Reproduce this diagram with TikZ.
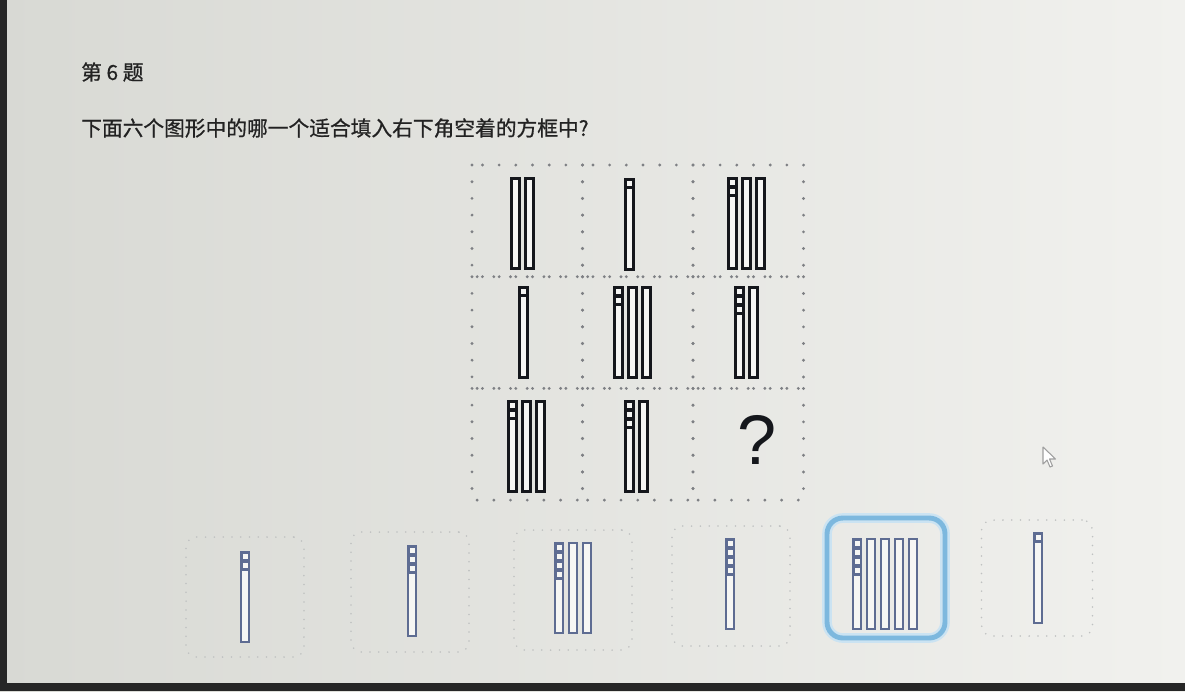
\documentclass[tikz,border=0pt]{standalone}
\usepackage{fontspec}
\newfontfamily\cjk[FakeBold=0.8]{Noto Sans CJK SC}
\newfontfamily\qfont{Liberation Sans}
\usetikzlibrary{calc, positioning}
\definecolor{screenlight}{HTML}{F1F1EE}
\definecolor{screendark}{HTML}{D8D9D4}
\definecolor{barink}{HTML}{15171C}
\definecolor{optink}{HTML}{5E6C92}
\definecolor{dotgrey}{HTML}{7E8084}
\definecolor{optdot}{HTML}{BFC1C1}
\definecolor{pickblue}{HTML}{7DB8DE}
\definecolor{textink}{HTML}{222222}
\definecolor{barpaper}{HTML}{F6F6F4}

% a group of sticks: style prefix, centre x, centre y, sticks, squares on the first one
\newcommand{\sticks}[5]{%
  \pgfmathsetmacro{\stickleft}{#2-(14*#4-6)/2}
  \foreach \b in {1,...,#4}
    \draw[#1bar, fill=barpaper] (\stickleft+14*\b-14,#3-45) rectangle ++(8,90);
  \ifnum#5>0
    \fill[#1fill] (\stickleft,#3-45) rectangle ++(8,9*#5+1);
    \foreach \k in {1,...,#5}
      \fill[barpaper] (\stickleft+1.5,#3-43+9*\k-9) rectangle ++(5,5);
  \fi
}

\begin{document}
\begin{tikzpicture}[x=0.02cm, y=-0.02cm,
    gridbar/.style={draw=barink, line width=1.7pt},
    gridfill/.style={fill=barink},
    optbar/.style={draw=optink, line width=1.1pt},
    optfill/.style={fill=optink},
    dotcell/.style={draw=dotgrey, line width=1.8pt, line cap=round, dash pattern=on 0pt off 9.5pt},
    optbox/.style={draw=optdot, line width=1pt, line cap=round, dash pattern=on 0pt off 5pt,
        rounded corners=6pt, minimum width=2.36cm, minimum height=2.4cm, inner sep=0pt},
    pickbox/.style={draw=pickblue, solid, line width=2.8pt, rounded corners=9pt,
        preaction={draw=pickblue!40, line width=5.5pt}},
    qtext/.style={anchor=west, text=textink, font=\cjk\fontsize{11.8}{14}\selectfont}]
    \useasboundingbox (0,0) rectangle (1185,691);
    
    % screen
    \shade[left color=screendark, right color=screenlight] (0,0) rectangle (1185,691);
    \fill[black!85] (0,0) rectangle (7,691);
    \fill[black!85] (0,683) rectangle (1185,691);
    
    \node[qtext] (title) at (75,72) {第 6 题};
    \node[qtext] (question) at ($(title.west)+(0,56)$) {下面六个图形中的哪一个适合填入右下角空着的方框中?};
    
    % puzzle grid
    \foreach \r in {0,1,2}
      \foreach \c in {0,1,2}
        \draw[dotcell] (472+110.5*\c,165+111.7*\r) rectangle ++(110.5,111.7);
    
    \sticks{grid}{522}{223}{2}{0}
    \sticks{grid}{629}{224}{1}{1}
    \sticks{grid}{746}{223}{3}{2}
    
    \sticks{grid}{523}{332}{1}{1}
    \sticks{grid}{632}{332}{3}{2}
    \sticks{grid}{746}{332}{2}{3}
    
    \sticks{grid}{526}{446}{3}{2}
    \sticks{grid}{636}{446}{2}{3}
    \node[font=\qfont\fontsize{40}{40}\selectfont, text=barink] (qmark) at (757,440) {?};
    
    % answers
    \node[optbox] (optA) at (245,597) {};
    \node[optbox] (optB) at (410,592) {};
    \node[optbox] (optC) at (573,590) {};
    \node[optbox] (optD) at (731,586) {};
    \node[optbox, pickbox] (optE) at (886,578) {};
    \node[optbox, minimum width=2.22cm, minimum height=2.32cm] (optF) at (1037,578) {};
    
    \sticks{opt}{245}{597}{1}{2}
    \sticks{opt}{412}{591}{1}{3}
    \sticks{opt}{573}{588}{3}{4}
    \sticks{opt}{730}{584}{1}{4}
    \sticks{opt}{885}{584}{5}{4}
    \sticks{opt}{1038}{578}{1}{1}
    
    % mouse pointer
    \draw[fill=white, draw=gray!75, line width=0.6pt, line join=round]
      (1043,447) -- ++(0,17) -- ++(4,-4) -- ++(3,7) -- ++(2.5,-1) -- ++(-3,-7) -- ++(6,0) -- cycle;
\end{tikzpicture}
\end{document}
